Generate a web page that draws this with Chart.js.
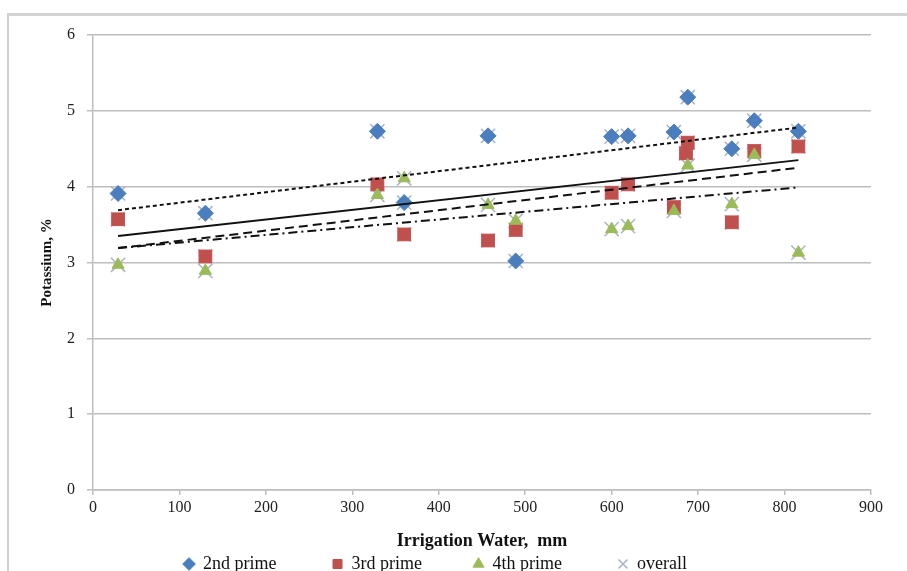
<!DOCTYPE html>
<html>
<head>
<meta charset="utf-8">
<script src="https://cdn.jsdelivr.net/npm/chart.js@4.4.0/dist/chart.umd.min.js"></script>
<style>
	body { margin: 0; background: #fff; }
	#frame { position: absolute; left: 7px; top: 13px; width: 960px; height: 620px; border-left: 2px solid #cfcfcf; border-top: 3px solid #d4d4d4; }
	#wrap { position: absolute; left: 0; top: 0; width: 907px; height: 571px; }
</style>
</head>
<body>
<div id="frame"></div>
<div id="wrap"><canvas id="chartUI" width="907" height="571"></canvas></div>
<script>
// Podaci ocitani sa grafika
var irrigation = [29, 130, 329, 360, 457, 489, 600, 619, 672, 688, 739, 765, 816];
var prime2 = [3.91, 3.65, 4.73, 3.79, 4.67, 3.02, 4.66, 4.67, 4.72, 5.18, 4.50, 4.87, 4.73];
var prime3 = [3.57, 3.08, 4.03, 3.37, 3.29, 3.43, 3.92, 4.03, 3.73, 4.58, 3.53, 4.47, 4.53];
var prime3ExtraX = [686];
var prime3Extra = [4.44];
var prime4 = [2.97, 2.89, 3.89, 4.11, 3.76, 3.55, 3.44, 3.48, 3.68, 4.28, 3.77, 4.42, 3.13];

// Trend linije (krajnje tacke ocitane sa slike)
var trendX = [29, 816];
var trend2 = [3.69, 4.78];
var trend3 = [3.19, 4.25];
var trend4 = [3.19, 3.99];
var trendAll = [3.35, 4.35];

var xTicks = [0, 100, 200, 300, 400, 500, 600, 700, 800, 900];
var yTicks = [0, 1, 2, 3, 4, 5, 6];

var toXY = function(xs, ys) {
	var out = [];
	for (var i = 0; i < xs.length; i++) out.push({x: xs[i], y: ys[i]});
	return out;
}

var pts2 = toXY(irrigation, prime2);
var pts3 = toXY(irrigation, prime3).concat(toXY(prime3ExtraX, prime3Extra));
var pts4 = toXY(irrigation, prime4);
var ptsAll = pts2.concat(pts3, pts4);

var trendSet = function(ys, dash) {
	return {
		label: 'trend',
		type: 'line',
		data: toXY(trendX, ys),
		borderColor: '#111',
		borderWidth: 2,
		borderDash: dash,
		pointRadius: 0,
		fill: false,
		order: 0
	};
}

var serif = "'Liberation Serif', 'Times New Roman', serif";
var gridColor = '#bdbdbd';

var scatterChartConfig = {
	type: 'scatter',
	data: {
		datasets: [
			{ label: '2nd prime', data: pts2, pointStyle: 'rectRot', pointRadius: 8, backgroundColor: '#4a7ebf', borderColor: '#4a7ebf', borderWidth: 1, order: 2 },
			{ label: '3rd prime', data: pts3, pointStyle: 'rect', pointRadius: 9, backgroundColor: '#c0504d', borderColor: '#c0504d', borderWidth: 1, order: 3 },
			{ label: '4th prime', data: pts4, pointStyle: 'triangle', pointRadius: 7, backgroundColor: '#9bbb59', borderColor: '#9bbb59', borderWidth: 1, order: 1 },
			{ label: 'overall', data: ptsAll, pointStyle: 'crossRot', pointRadius: 10, backgroundColor: '#a9b3c5', borderColor: '#a9b3c5', borderWidth: 1.5, order: 5 },
			trendSet(trend2, [4, 3]),
			trendSet(trend3, [9, 5]),
			trendSet(trend4, [9, 4, 2, 4]),
			trendSet(trendAll, [])
		]
	},
	options: {
		responsive: false,
		animation: false,
		layout: { padding: { left: 0, right: 36, top: 35, bottom: -12 } },
		plugins: {
			tooltip: { enabled: false },
			legend: {
				position: 'bottom',
				labels: {
					usePointStyle: true,
					boxHeight: 9,
					boxWidth: 10,
					padding: 2,
					color: '#111',
					font: { family: serif, size: 18 },
					filter: function(item) { return item.datasetIndex < 4; },
					sort: function(a, b) { return a.datasetIndex - b.datasetIndex; },
					generateLabels: function(chart) {
						var items = Chart.defaults.plugins.legend.labels.generateLabels(chart);
						var pads = ['            ', '           ', '            ', ''];
						items.forEach(function(it) {
							if (it.datasetIndex < 4) it.text = it.text + pads[it.datasetIndex];
						});
						return items;
					}
				}
			}
		},
		scales: {
			x: {
				type: 'linear',
				min: 0, max: 900,
				afterBuildTicks: function(scale) { scale.ticks = xTicks.map(function(v) { return {value: v}; }); },
				afterFit: function(scale) { scale.height = 63; },
				grid: { drawOnChartArea: false, drawTicks: true, tickLength: 5, color: gridColor, lineWidth: 1.5 },
				border: { color: gridColor, width: 1.5 },
				ticks: { color: '#222', padding: 3, font: { family: serif, size: 16 } },
				title: { display: true, text: 'Irrigation Water,  mm', color: '#111', padding: { top: 0, bottom: 1 }, font: { family: serif, size: 18, weight: 'bold' } }
			},
			y: {
				min: 0, max: 6,
				afterBuildTicks: function(scale) { scale.ticks = yTicks.map(function(v) { return {value: v}; }); },
				afterFit: function(scale) { scale.width = 93; },
				grid: { drawTicks: true, tickLength: 6, color: gridColor, lineWidth: 1.5 },
				border: { color: gridColor, width: 1.5 },
				ticks: { color: '#222', padding: 12, font: { family: serif, size: 16 } },
				title: { display: true, text: 'Potassium, %', color: '#111', padding: { top: 38, bottom: 0 }, font: { family: serif, size: 15, weight: 'bold' } }
			}
		}
	}
};

var ctx, scatterChart;
ctx = document.getElementById('chartUI');
scatterChart = new Chart(ctx, scatterChartConfig);
</script>
</body>
</html>
